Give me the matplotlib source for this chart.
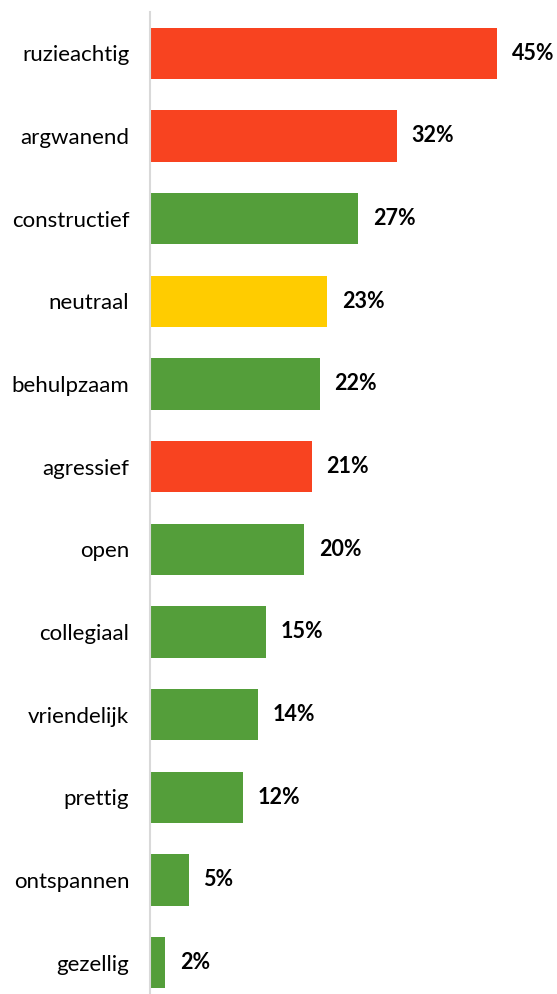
import numpy as np
import matplotlib.pyplot as plt

labels = ['ruzieachtig', 'argwanend', 'constructief', 'neutraal', 'behulpzaam',
          'agressief', 'open', 'collegiaal', 'vriendelijk', 'prettig',
          'ontspannen', 'gezellig']
values = [45, 32, 27, 23, 22, 21, 20, 15, 14, 12, 5, 2]
tone = ['neg', 'neg', 'pos', 'neu', 'pos', 'neg', 'pos', 'pos', 'pos', 'pos',
        'pos', 'pos']

palette = {'neg': '#F84320', 'pos': '#549E3A', 'neu': '#FFCC00'}

plt.rcParams['font.family'] = ['Lato', 'DejaVu Sans']

fig = plt.figure(figsize=(5.57, 9.94), dpi=100)
ax = fig.add_axes([150 / 557, -10 / 994, 401 / 557, 992 / 994])

ypos = np.arange(len(labels))
ax.barh(ypos, values, height=0.62, color=[palette[t] for t in tone])

for y, v in zip(ypos, values):
    ax.text(v + 1.9, y, '%d%%' % v, va='center', ha='left',
            fontsize=15.5, fontweight='bold', color='black')

ax.set_xlim(0, 52)
ax.set_ylim(len(labels) - 0.5, -0.5)
ax.set_yticks(ypos)
ax.set_yticklabels(labels, fontsize=16)
ax.tick_params(axis='y', length=0, pad=15)
ax.set_xticks([])

for s in ['top', 'right', 'bottom']:
    ax.spines[s].set_visible(False)
ax.spines['left'].set_color('#D9D9D9')
ax.spines['left'].set_linewidth(1.5)

fig.savefig('out.png', dpi=100)
